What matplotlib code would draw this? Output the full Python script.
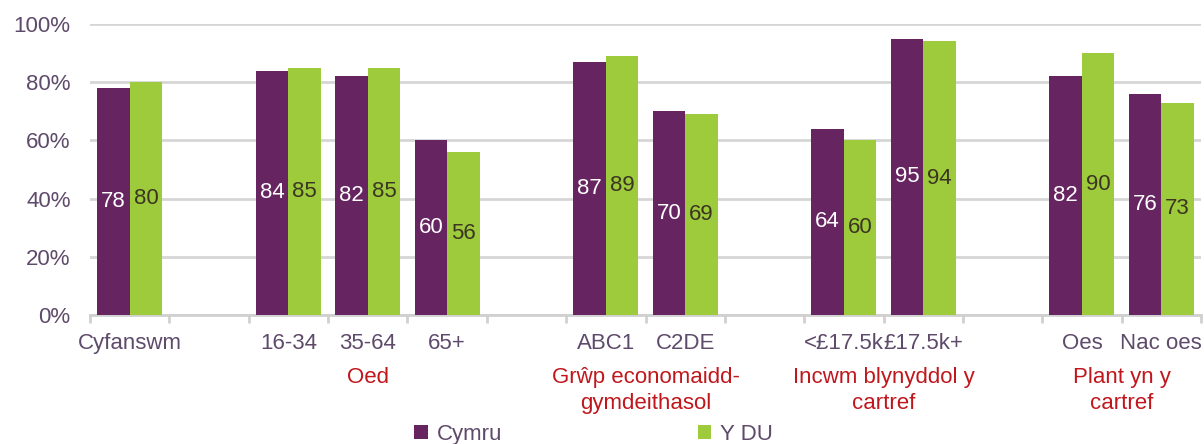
import matplotlib.pyplot as plt
import numpy as np

plt.rcParams['font.family'] = ['Liberation Sans', 'DejaVu Sans']

# data
categories = ['Cyfanswm', '16-34', '35-64', '65+', 'ABC1', 'C2DE',
              '<£17.5k', '£17.5k+', 'Oes', 'Nac oes']
slots = [0, 2, 3, 4, 6, 7, 9, 10, 12, 13]
cymru = [78, 84, 82, 60, 87, 70, 64, 95, 82, 76]
y_du = [80, 85, 85, 56, 89, 69, 60, 94, 90, 73]
groups = ['Oed', 'Grŵp economaidd-\ngymdeithasol', 'Incwm blynyddol y\ncartref', 'Plant yn y\ncartref']
group_pos = [3, 6.5, 9.5, 12.5]

purple = '#662460'
green = '#9dcb3c'
txt = '#5e4a6a'
red = '#c0171d'

fig = plt.figure(figsize=(12.04, 4.44), dpi=100)
ax = fig.add_axes([0.0748, 0.2905, 0.9227, 0.6555])

x = np.array(slots)
w = 0.41
b1 = ax.bar(x - w / 2, cymru, w, color=purple, label='Cymru', zorder=3)
b2 = ax.bar(x + w / 2, y_du, w, color=green, label='Y DU', zorder=3)

# value labels in the middle of each bar
for xi, v in zip(x, cymru):
    ax.text(xi - w / 2, v / 2, str(v), ha='center', va='center', color='white', fontsize=16, zorder=4)
for xi, v in zip(x, y_du):
    ax.text(xi + w / 2, v / 2, str(v), ha='center', va='center', color='#3b3522', fontsize=16, zorder=4)

ax.set_xlim(-0.5, 13.5)
ax.set_ylim(0, 100)
ax.set_yticks(range(0, 101, 20))
ax.set_yticklabels([f'{t}%' for t in range(0, 101, 20)], fontsize=16, color=txt)
ax.yaxis.grid(True, color='#d6d6d6', linewidth=2, zorder=0)
ax.tick_params(axis='y', length=0, pad=14)

ax.set_xticks(np.arange(-0.5, 14, 1))
ax.set_xticklabels([])
ax.set_xticks(slots, minor=True)
ax.set_xticklabels(categories, minor=True, fontsize=16, color=txt)
ax.tick_params(axis='x', which='major', length=6, color='#d0d0d0', width=2)
ax.tick_params(axis='x', which='minor', length=0, pad=13)

for s in ['top', 'right', 'left']:
    ax.spines[s].set_visible(False)
ax.spines['bottom'].set_color('#d0d0d0')
ax.spines['bottom'].set_linewidth(2)

# group labels under the categories
for gp, g in zip(group_pos, groups):
    ax.text(gp, -0.18, g, ha='center', va='top', color=red, fontsize=16,
            linespacing=1.3, transform=ax.get_xaxis_transform())

fig.legend(handles=[b1, b2], loc='center', bbox_to_anchor=(0.493, 0.022), ncol=2,
           frameon=False, fontsize=16, handlelength=0.6, handleheight=0.6,
           handletextpad=0.4, columnspacing=8.8, labelcolor=txt)

fig.savefig('out.png')
